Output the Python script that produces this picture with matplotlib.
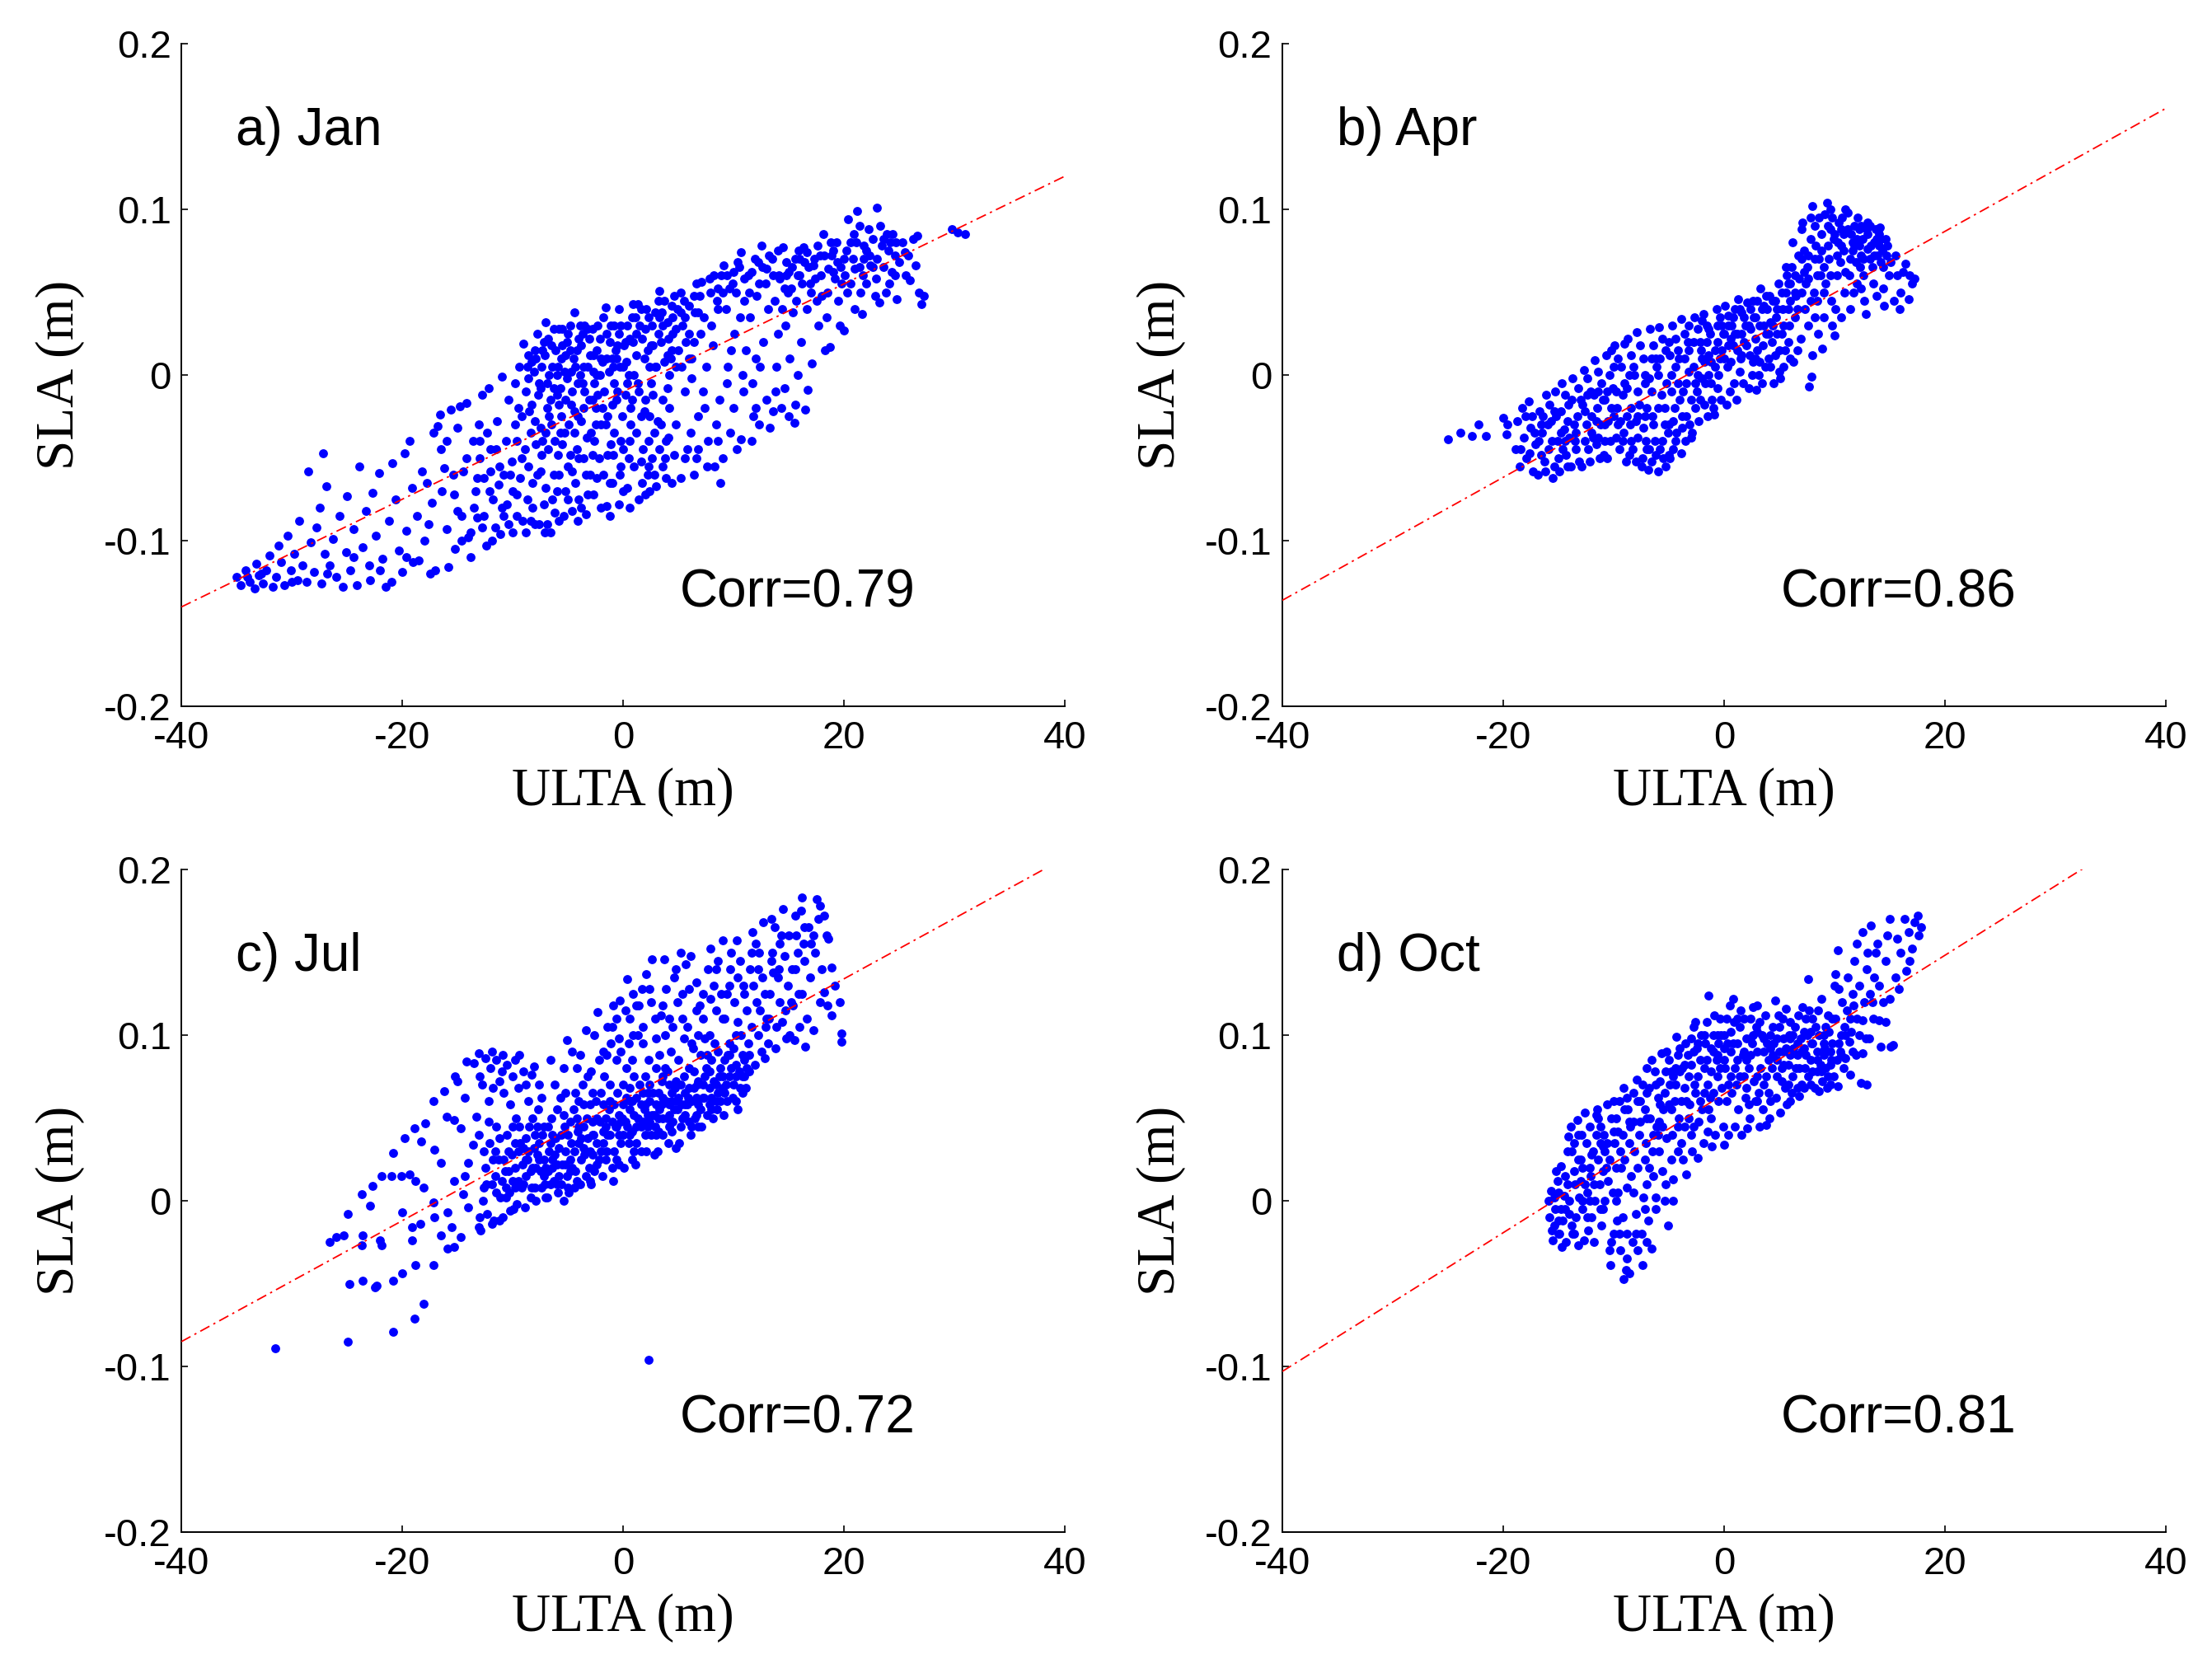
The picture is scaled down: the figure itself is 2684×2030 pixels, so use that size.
import numpy as np
import matplotlib
matplotlib.use("Agg")
import matplotlib.pyplot as plt

# ---------------- data ----------------
panel_titles = ["a) Jan", "b) Apr", "c) Jul", "d) Oct"]
corr_labels = ["Corr=0.79", "Corr=0.86", "Corr=0.72", "Corr=0.81"]
xticks = [-40, -20, 0, 20, 40]
xtick_labels = ["-40", "-20", "0", "20", "40"]
yticks = [-0.2, -0.1, 0.0, 0.1, 0.2]
ytick_labels = ["-0.2", "-0.1", "0", "0.1", "0.2"]
x_label = "ULTA (m)"
y_label = "SLA (m)"

# regression lines: SLA value at ULTA = -40 and at ULTA = +40
fit_x = [-40, 40]
fit_jan = [-0.140, 0.120]
fit_apr = [-0.136, 0.161]
fit_jul = [-0.085, 0.207]
fit_oct = [-0.103, 0.232]

jan_pts = [
    (-35.0,-0.122),(-34.6,-0.127),(-34.2,-0.118),(-33.8,-0.125),(-33.4,-0.129),(-33.0,-0.121),(-33.2,-0.114),
    (-32.6,-0.126),(-32.3,-0.118),(-32.0,-0.109),(-31.7,-0.128),(-31.4,-0.122),(-31.0,-0.113),(-31.2,-0.103),
    (-30.7,-0.127),(-30.4,-0.097),(-30.1,-0.118),(-29.8,-0.108),(-29.5,-0.124),(-29.3,-0.088),(-29.0,-0.115),
    (-28.7,-0.125),(-28.5,-0.058),(-28.3,-0.101),(-28.0,-0.119),(-27.8,-0.092),(-27.5,-0.080),(-27.2,-0.047),(-27.0,-0.108),(-27.3,-0.126),
    (-26.9,-0.067),(-26.6,-0.115),(-26.3,-0.099),(-26.0,-0.122),(-25.7,-0.085),(-25.4,-0.128),(-25.1,-0.107),(-25.0,-0.073),
    (-24.7,-0.118),(-24.4,-0.093),(-24.1,-0.127),(-23.9,-0.055),(-23.6,-0.104),(-23.3,-0.082),(-23.0,-0.115),(-22.9,-0.124),
    (-22.7,-0.071),(-22.4,-0.097),(-22.1,-0.059),(-21.8,-0.111),(-21.5,-0.128),(-21.2,-0.088),(-21.0,-0.125),(-20.9,-0.053),
    (-20.6,-0.075),(-20.3,-0.106),(-20.0,-0.119),(-19.8,-0.047),(-19.6,-0.094),(-19.3,-0.040),(-19.1,-0.068),(-19.0,-0.113),
    (-18.7,-0.085),(-18.5,-0.112),(-18.2,-0.058),(-18.0,-0.100),(-17.8,-0.065),(-17.5,-0.120),(-17.3,-0.077),(-17.0,-0.118),(-17.2,-0.035),
    (-16.8,-0.031),(-16.6,-0.024),(-16.5,-0.045),(-16.2,-0.056),(-16.0,-0.093),(-15.8,-0.116),(-15.6,-0.021),(-15.4,-0.060),(-15.2,-0.105),(-15.0,-0.082),(-15.3,-0.072),
    (-14.8,-0.019),(-14.5,-0.058),(-14.2,-0.017),(-14.0,-0.098),(-13.8,-0.110),(-13.6,-0.040),(-13.4,-0.070),(-13.2,-0.086),(-13.0,-0.050),(-13.1,-0.030),(-13.5,-0.080),
    (-12.8,-0.012),(-12.6,-0.062),(-12.4,-0.103),(-12.2,-0.008),(-12.0,-0.045),(-11.8,-0.075),(-11.6,-0.092),(-11.4,-0.028),(-11.2,-0.055),(-11.0,-0.001),(-11.1,-0.096),(-11.3,-0.066),(-12.3,-0.035),
    (-10.8,-0.085),(-10.6,-0.040),(-10.4,-0.015),(-10.2,-0.060),(-10.0,-0.095),(-9.8,-0.030),(-9.6,-0.072),(-9.4,0.005),(-9.2,-0.050),(-9.0,0.019),(-9.1,-0.088),(-9.5,-0.020),(-10.5,-0.078),(-9.3,-0.062),
    (-8.8,-0.010),(-8.6,0.012),(-8.4,-0.035),(-8.2,-0.065),(-8.0,-0.090),(-7.8,0.025),(-7.6,-0.005),(-7.4,-0.048),(-7.2,-0.078),(-7.0,0.032),(-7.1,-0.095),(-8.5,-0.022),(-8.1,0.002),(-7.5,-0.058),(-7.3,0.015),(-7.9,-0.042),(-8.7,-0.075),
    (-6.8,0.022),(-6.6,-0.015),(-6.4,0.005),(-6.2,-0.040),(-6.0,-0.070),(-5.8,0.028),(-5.6,-0.025),(-5.4,-0.085),(-5.2,0.012),(-5.0,-0.055),(-6.9,-0.090),(-6.5,-0.030),(-6.1,0.015),(-5.7,-0.008),(-5.3,-0.035),(-5.1,-0.002),(-6.3,-0.060),(-5.9,-0.048),
    (-4.8,0.030),(-4.6,-0.010),(-4.4,0.038),(-4.2,-0.045),(-4.0,-0.075),(-3.8,0.018),(-3.6,-0.020),(-3.4,-0.084),(-3.2,0.005),(-3.0,-0.060),(-4.9,-0.030),(-4.5,0.010),(-4.1,-0.005),(-3.7,0.025),(-3.3,-0.038),(-3.1,-0.015),(-4.3,-0.065),(-3.9,0.000),
    (-2.8,0.028),(-2.6,-0.005),(-2.4,0.015),(-2.2,-0.050),(-2.0,-0.080),(-1.8,0.035),(-1.6,0.041),(-1.4,-0.025),(-1.2,-0.065),(-1.0,0.010),(-2.9,-0.035),(-2.5,-0.020),(-2.1,0.022),(-1.7,-0.010),(-1.3,0.002),(-1.1,-0.042),(-2.7,-0.072),(-1.5,-0.079),
    (-0.8,0.030),(-0.6,-0.015),(-0.4,0.040),(-0.2,-0.040),(0.0,-0.070),(0.2,0.020),(0.4,-0.005),(0.6,-0.080),(0.8,0.035),(1.0,-0.055),(-0.9,0.005),(-0.5,0.018),(-0.1,-0.025),(0.3,0.008),(0.7,-0.030),(0.9,0.043),(-0.3,-0.060),
    (1.2,0.025),(1.4,-0.010),(1.6,0.040),(1.8,-0.045),(2.0,-0.072),(2.2,0.015),(2.4,-0.025),(2.6,0.030),(2.8,-0.060),(3.0,0.005),(1.3,0.043),(1.9,0.010),(2.5,-0.005),(2.9,0.038),(1.7,-0.065),(2.3,-0.040),
    (3.2,0.045),(3.4,0.020),(3.6,-0.015),(3.8,-0.050),(4.0,0.032),(4.2,0.000),(4.4,-0.065),(4.6,0.048),(4.8,-0.030),(5.0,0.015),(3.3,0.051),(3.7,0.008),(4.1,-0.038),(4.5,0.025),(4.9,0.040),(3.9,-0.062),
    (5.2,0.050),(5.4,0.030),(5.6,-0.010),(5.8,-0.045),(6.0,0.042),(6.2,0.010),(6.4,-0.060),(6.6,0.055),(6.8,-0.025),(7.0,0.025),(5.3,0.005),(5.7,0.020),(6.1,-0.035),(6.5,0.038),(6.9,0.048),(7.1,0.056),
    (7.3,0.035),(7.5,0.005),(7.7,-0.040),(7.9,0.050),(8.1,0.018),(8.3,-0.055),(8.5,0.045),(8.7,-0.015),(8.9,0.060),(9.1,0.066),(7.4,-0.020),(8.0,0.030),(8.6,0.040),(9.0,-0.050),(7.8,0.058),
    (9.3,0.040),(9.5,0.005),(9.7,-0.035),(9.9,0.055),(10.1,0.025),(10.3,-0.045),(10.5,0.065),(10.7,0.074),(10.9,-0.010),(11.0,0.045),(9.4,0.060),(10.0,-0.020),(10.6,0.035),(10.2,0.050),(11.1,0.015),(10.7,-0.039),
    (11.3,0.060),(11.5,0.035),(11.7,-0.005),(11.9,0.070),(12.1,0.048),(12.3,-0.030),(12.5,0.078),(12.7,0.020),(12.9,0.055),(13.0,-0.015),(11.4,0.050),(12.0,0.010),(12.6,0.065),(13.1,0.040),(11.8,-0.025),(13.3,-0.032),
    (13.5,0.070),(13.7,0.045),(13.9,0.005),(14.1,0.060),(14.3,-0.020),(14.5,0.077),(14.7,0.030),(14.9,0.050),(15.0,-0.025),(13.6,0.060),(14.0,0.025),(14.4,0.040),(14.8,0.068),(15.1,0.010),(13.8,-0.010),
    (15.3,0.065),(15.5,-0.029),(15.7,0.045),(15.9,0.075),(16.1,0.020),(16.3,0.077),(16.5,-0.021),(16.7,-0.009),(16.9,0.055),(17.1,0.007),(15.4,0.038),(16.0,0.060),(16.6,0.040),(15.8,0.000),(16.4,0.068),
    (17.3,0.070),(17.5,0.045),(17.7,0.030),(17.9,0.060),(18.1,0.085),(18.3,0.015),(18.5,0.050),(18.7,0.017),(18.9,0.072),(17.6,0.078),(18.4,0.035),(19.0,0.062),
    (19.3,0.080),(19.5,0.045),(19.7,0.065),(20.0,0.027),(20.2,0.075),(20.4,0.094),(20.6,0.055),(20.8,0.070),(21.0,0.040),(19.6,0.030),(20.3,0.050),(21.1,0.080),
    (21.2,0.099),(21.4,0.065),(21.6,0.037),(21.8,0.078),(22.0,0.055),(22.3,0.072),(22.6,0.082),(22.8,0.048),(23.0,0.101),(23.2,0.044),(22.2,0.088),(21.5,0.050),
    (23.4,0.078),(23.6,0.065),(23.9,0.085),(24.1,0.055),(24.4,0.085),(24.6,0.072),(24.8,0.046),(25.0,0.068),(23.8,0.050),(24.3,0.062),
    (25.3,0.080),(25.6,0.060),(26.0,0.057),(26.3,0.082),(26.6,0.084),(26.8,0.050),(27.0,0.043),(27.2,0.048),(25.8,0.072),(26.5,0.066),
    (29.8,0.088),(30.3,0.086),(31.0,0.085),
    (-8.3,0.008),(-7.7,-0.012),(-7.2,0.020),(-6.7,0.000),(-6.3,0.028),(-5.8,-0.018),(-5.5,0.018),(-5.0,0.025),(-4.7,0.002),(-4.2,0.015),
    (-3.8,-0.028),(-3.5,0.030),(-3.0,0.012),(-2.7,0.002),(-2.3,-0.012),(-1.9,0.008),(-1.5,0.025),(-1.0,-0.018),(-0.6,0.010),(-0.2,0.030),
    (0.2,-0.012),(0.6,0.022),(1.0,0.000),(1.5,0.030),(1.9,-0.022),(2.3,0.035),(2.7,0.018),(3.1,-0.028),(3.5,0.038),(4.0,0.012),
    (4.4,0.042),(4.8,0.005),(5.5,0.045),(6.0,0.025),(6.4,0.048),(6.8,0.038),(-8.0,-0.028),(-7.5,-0.032),(-6.8,-0.045),(-6.0,-0.012),
    (-5.5,-0.042),(-4.8,-0.048),(-4.4,-0.022),(-3.6,-0.050),(-2.8,-0.048),(-2.0,-0.030),(-1.4,-0.048),(-0.8,-0.035),(0.0,-0.045),(0.5,-0.050),
    (1.2,-0.035),(2.0,-0.015),(2.6,-0.050),(3.3,-0.045),(4.2,-0.020),
    (-8.9,-0.045),(-9.6,-0.040),(-10.1,-0.052),(-10.8,-0.060),(-11.5,-0.045),(-12.1,-0.070),(-8.2,-0.080),(-7.0,-0.068),(-6.2,-0.083),(-5.0,-0.075),
    (-4.1,-0.088),(-3.2,-0.072),(-2.4,-0.062),(-1.2,-0.085),(-0.4,-0.078),(0.4,-0.068),(1.4,-0.075),(2.2,-0.060),(3.0,-0.067),(3.6,-0.055),
    (8.2,0.060),(9.6,0.052),(10.4,0.068),(11.6,0.062),(12.3,0.055),(13.2,0.072),(14.2,0.058),(15.2,0.052),(15.6,0.070),(16.8,0.065),
    (17.4,0.058),(18.0,0.048),(18.8,0.080),(19.4,0.068),(20.1,0.060),(20.9,0.085),(21.7,0.060),(22.4,0.066),(23.3,0.090),(24.0,0.075),
    (24.7,0.080),(25.5,0.074),(19.8,0.055),(22.9,0.058),(17.0,0.050),(14.6,0.052),
    (6.2,-0.002),(7.2,-0.010),(8.4,-0.030),(9.4,-0.005),(10.8,0.000),(11.6,-0.040),(12.4,0.005),(13.6,-0.022),(14.6,-0.008),(15.6,-0.018),
    (12.0,-0.020),(9.8,0.015),(8.8,-0.065),(6.6,-0.050),(5.2,-0.062),
    (-8.6,-0.002),(-8.0,0.015),(-7.4,0.005),(-6.9,-0.020),(-6.5,0.018),(-6.0,0.000),(-5.6,0.010),(-5.2,-0.015),(-4.8,0.015),(-4.4,-0.035),
    (-4.0,0.022),(-3.6,0.005),(-3.2,0.028),(-2.8,-0.015),(-2.4,0.000),(-2.0,0.010),(-1.6,-0.030),(-1.2,0.020),(-0.8,-0.005),(-0.4,0.025),
    (0.0,0.005),(0.4,0.030),(0.8,-0.015),(1.2,0.012),(1.6,-0.025),(2.0,0.028),(2.4,0.005),(2.8,-0.035),(3.2,0.025),(3.6,0.030),
    (4.0,-0.008),(4.4,0.015),(4.8,0.028),(5.2,0.038),(5.6,0.035),(6.0,0.010),(6.4,0.020),
    (-9.8,-0.005),(-9.2,-0.025),(-8.6,-0.055),(-7.8,-0.060),(-7.0,-0.035),(-6.4,-0.075),(-5.8,-0.060),(-5.2,-0.070),(-4.6,-0.058),(-4.0,-0.050),
    (-3.4,-0.060),(-2.6,-0.040),(-1.8,-0.060),(-1.0,-0.065),(-0.2,-0.055),(0.6,-0.040),(1.6,-0.052),(2.4,-0.070),(3.4,-0.030),(4.6,-0.048),
    (5.6,-0.050),(6.8,-0.045),(7.6,-0.055),(8.6,-0.040),
    (-12.6,-0.085),(-11.9,-0.100),(-11.0,-0.080),(-10.4,-0.090),(-9.6,-0.085),(-8.8,-0.095),(-8.4,-0.088),(-7.6,-0.090),(-6.6,-0.095),(-5.8,-0.088),
    (-4.6,-0.082),(-3.8,-0.080),(-14.6,-0.100),(-13.8,-0.095),(-12.8,-0.092),(-12.0,-0.058),(-10.0,-0.070),(-13.2,-0.062),
    (13.0,0.064),(14.0,0.075),(15.0,0.062),(16.2,0.055),(17.2,0.066),(18.2,0.072),(19.0,0.075),(20.0,0.070),(21.0,0.064),(22.0,0.075),
    (23.0,0.070),(24.2,0.080),(12.2,0.068),(11.0,0.058),(10.0,0.062),(9.0,0.050),(8.6,0.052),(16.0,0.070),(21.4,0.090),(23.6,0.082),
    (-16.0,-0.040),(-15.0,-0.032),(-14.2,-0.050),(-13.0,-0.040),(-16.4,-0.070),(-14.6,-0.085),(-17.6,-0.090),(-19.6,-0.110),(-22.0,-0.118),(-24.4,-0.110),
    (-26.8,-0.120),(-30.0,-0.125),(-32.8,-0.120),(-34.0,-0.122),
    (-8.7,0.005),(-8.3,-0.018),(-7.9,0.010),(-7.5,-0.008),(-7.1,0.012),(-6.7,-0.025),(-6.3,-0.008),(-5.9,0.005),(-5.5,0.028),(-5.1,0.020),
    (-4.7,-0.018),(-4.3,0.005),(-3.9,0.030),(-3.5,-0.010),(-3.1,0.022),(-2.7,0.012),(-2.3,0.030),(-1.9,-0.020),(-1.5,0.010),(-1.1,0.030),
    (-0.7,0.015),(-0.3,0.005),(0.1,0.018),(0.5,0.000),(0.9,0.020),(1.3,-0.005),(1.7,0.022),(2.1,0.040),(2.5,0.018),(2.9,0.005),
    (3.3,0.035),(3.7,0.045),(4.1,0.022),(4.5,0.035),(-6.9,-0.005),(-5.3,0.002),(-3.7,-0.005),(-2.1,0.000),(-0.5,-0.010),(1.1,0.035),
    (2.7,-0.012),(4.3,0.010),(-7.3,-0.040),(-5.7,-0.035),(-4.1,-0.025),(-2.5,-0.030),(-0.9,-0.048),(0.7,-0.020),(2.3,-0.055),(3.9,-0.040),
    (15.8,0.060),(17.8,0.072),(19.2,0.058),(20.6,0.080),(22.6,0.065),(24.6,0.060),(21.8,0.070),(18.6,0.064),(16.6,0.074),(14.8,0.060),
]

apr_pts = [
    (-25.0,-0.039),(-23.9,-0.035),(-22.8,-0.037),(-22.2,-0.030),(-21.6,-0.037),(-20.0,-0.026),(-19.7,-0.036),(-19.6,-0.030),
    (-18.9,-0.045),(-18.7,-0.028),(-18.5,-0.055),(-18.3,-0.020),(-18.1,-0.038),(-17.9,-0.050),(-17.7,-0.016),(-17.5,-0.032),(-17.3,-0.058),(-17.1,-0.042),(-18.0,-0.025),(-17.6,-0.047),
    (-16.9,-0.060),(-16.7,-0.022),(-16.5,-0.035),(-16.3,-0.052),(-16.1,-0.012),(-15.9,-0.045),(-15.7,-0.028),(-15.5,-0.062),(-15.3,-0.010),(-15.1,-0.040),(-16.6,-0.048),(-16.0,-0.030),(-15.4,-0.055),(-15.8,-0.018),(-16.8,-0.040),(-15.2,-0.025),
    (-14.9,-0.058),(-14.7,-0.005),(-14.5,-0.033),(-14.3,-0.048),(-14.1,-0.018),(-13.9,-0.055),(-13.7,-0.002),(-13.5,-0.040),(-13.3,-0.025),(-13.1,-0.052),(-14.8,-0.022),(-14.4,-0.012),(-14.0,-0.038),(-13.6,-0.030),(-13.2,-0.008),(-14.6,-0.045),(-13.8,-0.015),(-14.2,-0.028),
    (-12.9,-0.055),(-12.7,0.003),(-12.5,-0.030),(-12.3,-0.045),(-12.1,-0.010),(-11.9,-0.038),(-11.7,0.009),(-11.5,-0.020),(-11.3,-0.050),(-11.1,-0.005),(-12.8,-0.018),(-12.4,-0.002),(-12.0,-0.025),(-11.6,-0.042),(-11.2,-0.030),(-12.6,-0.040),(-11.8,-0.012),(-11.4,0.002),(-12.2,-0.052),(-11.0,-0.015),
    (-10.9,-0.048),(-10.7,0.012),(-10.5,-0.028),(-10.3,-0.040),(-10.1,-0.008),(-9.9,0.018),(-9.7,-0.020),(-9.5,-0.045),(-9.3,0.005),(-9.1,-0.035),(-10.8,-0.015),(-10.4,0.000),(-10.0,-0.025),(-9.6,0.010),(-9.2,-0.012),(-10.6,-0.050),(-9.8,-0.038),(-9.4,-0.028),(-10.2,0.015),(-9.0,0.019),
    (-8.9,-0.052),(-8.7,0.022),(-8.5,-0.030),(-8.3,-0.045),(-8.1,0.000),(-7.9,0.026),(-7.7,-0.018),(-7.5,-0.055),(-7.3,0.010),(-7.1,-0.040),(-8.8,-0.008),(-8.4,0.012),(-8.0,-0.028),(-7.6,0.018),(-7.2,-0.005),(-8.6,-0.048),(-7.8,-0.038),(-7.4,-0.050),(-8.2,0.005),(-7.0,-0.020),(-8.0,-0.052),(-7.3,-0.032),
    (-6.9,-0.057),(-6.7,0.028),(-6.5,-0.025),(-6.3,-0.040),(-6.1,0.005),(-5.9,0.029),(-5.7,-0.012),(-5.5,-0.050),(-5.3,0.015),(-5.1,-0.035),(-6.8,-0.002),(-6.4,0.018),(-6.0,-0.020),(-5.6,0.022),(-5.2,-0.005),(-6.6,-0.052),(-5.8,-0.045),(-5.4,-0.030),(-6.2,0.010),(-5.0,-0.048),(-6.0,-0.058),(-5.3,-0.055),
    (-4.9,-0.050),(-4.7,0.030),(-4.5,-0.020),(-4.3,-0.035),(-4.1,0.010),(-3.9,0.034),(-3.7,-0.010),(-3.5,-0.040),(-3.3,0.020),(-3.1,-0.030),(-4.8,0.000),(-4.4,0.022),(-4.0,-0.015),(-3.6,0.025),(-3.2,0.002),(-4.6,-0.045),(-3.8,-0.025),(-3.4,-0.005),(-4.2,0.015),(-3.0,-0.038),(-4.9,0.012),(-3.9,-0.047),
    (-2.9,-0.035),(-2.7,0.035),(-2.5,-0.010),(-2.3,-0.028),(-2.1,0.015),(-1.9,0.037),(-1.7,-0.005),(-1.5,-0.025),(-1.3,0.025),(-1.1,-0.015),(-2.8,0.005),(-2.4,0.028),(-2.0,-0.002),(-1.6,0.030),(-1.2,0.008),(-2.6,-0.020),(-1.8,-0.018),(-1.4,0.012),(-2.2,0.020),(-1.0,-0.020),(-2.0,0.033),
    (-0.9,-0.024),(-0.7,0.040),(-0.5,0.000),(-0.3,-0.015),(-0.1,0.025),(0.1,0.042),(0.3,0.005),(0.5,-0.010),(0.7,0.030),(0.9,-0.005),(-0.8,0.015),(-0.4,0.035),(0.0,0.010),(0.4,0.036),(0.8,0.018),(-0.6,-0.008),(0.2,-0.018),(0.6,0.022),(-0.2,0.030),(1.0,0.040),
    (1.1,-0.015),(1.3,0.046),(1.5,0.010),(1.7,-0.005),(1.9,0.030),(2.1,0.044),(2.3,0.012),(2.5,0.000),(2.7,0.035),(2.9,-0.009),(1.2,0.025),(1.6,0.038),(2.0,0.018),(2.4,0.040),(2.8,0.022),(1.4,0.002),(1.8,0.020),(2.2,-0.008),(2.6,0.008),(3.0,0.045),
    (3.1,0.000),(3.3,0.052),(3.5,0.018),(3.7,0.005),(3.9,0.040),(4.1,0.048),(4.3,0.020),(4.5,-0.005),(4.7,0.035),(4.9,0.055),(3.2,0.030),(3.6,0.042),(4.0,0.010),(4.4,0.045),(4.8,0.025),(3.4,-0.005),(3.8,0.025),(4.2,0.032),(4.6,0.012),(5.0,0.002),
    (5.1,-0.002),(5.3,0.040),(5.5,0.015),(5.7,0.060),(5.9,0.030),(6.1,0.065),(6.3,0.008),(6.5,0.048),(6.7,0.072),(6.9,0.022),(5.2,0.025),(5.6,0.050),(6.0,0.045),(6.2,0.080),(6.4,0.035),(6.8,0.058),(5.4,0.005),(5.8,0.020),(6.6,0.015),(7.0,0.088),(6.0,0.010),
    (7.1,0.092),(7.3,0.040),(7.5,0.065),(7.7,-0.007),(7.9,-0.001),(8.0,0.102),(8.1,0.050),(8.3,0.078),(8.5,0.025),(8.7,0.060),(8.9,0.016),(7.2,0.075),(7.6,0.030),(8.2,0.090),(8.4,0.045),(8.8,0.085),(7.4,0.055),(7.8,0.082),(8.6,0.070),(9.0,0.035),(8.0,0.012),(7.0,0.050),
    (9.1,0.097),(9.3,0.104),(9.5,0.070),(9.7,0.045),(9.9,0.082),(10.0,0.024),(10.2,0.060),(10.4,0.092),(10.6,0.035),(10.8,0.075),(11.0,0.100),(9.2,0.055),(9.6,0.088),(10.1,0.040),(10.5,0.068),(10.9,0.050),(9.4,0.078),(9.8,0.030),(10.3,0.080),(10.7,0.095),(11.0,0.062),
    (11.2,0.098),(11.4,0.040),(11.6,0.075),(11.8,0.090),(12.0,0.055),(12.1,0.095),(12.3,0.065),(12.5,0.082),(12.7,0.045),(12.9,0.088),(11.3,0.060),(11.7,0.050),(12.2,0.078),(12.6,0.070),(11.5,0.085),(12.8,0.037),(12.4,0.052),(11.9,0.068),(13.0,0.076),
    (13.2,0.090),(13.4,0.065),(13.6,0.080),(13.8,0.048),(14.0,0.085),(14.1,0.089),(14.3,0.075),(14.5,0.042),(14.7,0.072),(14.9,0.060),(13.3,0.078),(13.7,0.088),(14.2,0.068),(14.6,0.082),(13.5,0.055),(14.4,0.052),(13.9,0.072),(14.8,0.078),
    (15.1,0.068),(15.4,0.045),(15.7,0.060),(16.0,0.050),(16.4,0.067),(16.7,0.046),(17.0,0.055),(17.2,0.058),(15.5,0.072),(16.2,0.062),(15.9,0.040),(16.8,0.060),
    (-17.2,-0.035),(-16.4,-0.025),(-15.6,-0.040),(-14.8,-0.035),(-14.2,-0.055),(-13.4,-0.045),(-12.6,-0.022),(-12.0,-0.035),(-11.4,-0.010),(-10.8,-0.030),
    (-10.2,-0.020),(-9.6,-0.030),(-9.0,-0.005),(-8.4,-0.020),(-7.8,-0.010),(-7.2,-0.025),(-6.6,-0.010),(-6.0,0.000),(-5.4,-0.020),(-4.8,-0.010),
    (-4.2,-0.005),(-3.6,0.010),(-3.0,-0.015),(-2.4,0.000),(-1.8,0.008),(-1.2,-0.005),(-0.6,0.020),(0.0,0.025),(0.6,0.008),(1.2,0.015),
    (1.8,0.035),(2.4,0.028),(3.0,0.015),(3.6,0.030),(4.2,0.005),(4.8,0.040),(5.4,0.030),(6.0,0.055),(6.6,0.040),(7.2,0.062),
    (7.8,0.045),(8.4,0.060),(9.0,0.065),(9.6,0.060),(10.2,0.072),(10.8,0.085),(11.4,0.070),(12.0,0.082),(12.6,0.060),(13.2,0.070),
    (13.8,0.082),(14.4,0.065),(-8.4,-0.040),(-7.0,-0.045),(-6.2,-0.048),(-5.6,-0.040),(-4.4,-0.040),(-3.4,-0.025),(-2.2,-0.015),(-1.4,0.000),
    (-0.4,0.010),(0.4,0.030),(1.6,0.025),(2.6,0.045),(3.8,0.048),(5.0,0.015),(-6.6,0.010),(-5.0,0.020),(-3.2,0.030),(-1.6,0.020),
    (0.8,0.035),(2.8,0.010),(4.4,0.030),(-10.0,0.005),(-11.6,-0.028),(-13.0,-0.015),(-15.0,-0.050),(-16.2,-0.058),(-17.4,-0.025),(-18.4,-0.045),
    (8.6,0.095),(9.6,0.100),(10.6,0.088),(11.6,0.080),(12.4,0.090),(13.0,0.085),(14.0,0.078),(7.6,0.072),(8.2,0.035),(9.0,0.050),
    (6.4,0.060),(5.8,0.040),
    (-16.6,-0.030),(-15.4,-0.022),(-14.4,-0.040),(-13.4,-0.035),(-12.4,-0.012),(-11.4,-0.038),(-10.6,-0.010),(-9.8,-0.010),(-9.2,-0.040),(-8.6,0.000),
    (-7.8,-0.025),(-7.2,0.000),(-6.4,-0.030),(-5.8,0.010),(-5.0,-0.030),(-4.4,0.005),(-3.8,-0.032),(-3.2,0.015),(-2.6,-0.005),(-2.0,0.010),
    (-1.4,0.028),(-0.8,0.005),(-0.2,0.015),(0.4,0.018),(1.0,0.025),(1.6,0.012),(2.2,0.030),(2.8,0.035),(3.4,0.040),(4.0,0.025),
    (4.6,0.045),(5.2,0.050),(5.8,0.055),(6.4,0.050),(7.0,0.070),(7.6,0.058),(8.2,0.070),(8.8,0.075),(9.4,0.090),(10.0,0.085),
    (10.6,0.078),(11.2,0.088),(11.8,0.078),(12.4,0.072),(13.0,0.092),(13.6,0.072),(14.2,0.082),(-10.8,-0.040),(-8.8,-0.025),(-6.8,-0.045),
    (-4.6,-0.028),(-2.8,0.020),(-0.6,0.030),(1.4,0.040),(3.2,0.008),(5.6,0.065),(7.8,0.095),(9.8,0.095),(12.2,0.088),
]

jul_pts = [
    (-31.5,-0.089),(-24.9,-0.085),(-20.8,-0.079),(-18.9,-0.071),(-18.1,-0.062),(2.3,-0.096),
    (-24.8,-0.050),(-23.6,-0.048),(-22.5,-0.052),(-22.3,-0.051),(-20.8,-0.048),(-20.0,-0.044),(-18.8,-0.039),(-17.2,-0.039),
    (-26.6,-0.025),(-26.0,-0.022),(-25.3,-0.021),(-23.7,-0.027),(-23.6,-0.021),(-21.9,-0.027),(-22.0,-0.024),(-19.1,-0.024),
    (-24.9,-0.008),(-23.7,0.004),(-22.9,-0.003),(-22.7,0.009),(-21.9,0.015),(-21.0,0.015),(-20.1,0.015),(-19.3,0.016),(-18.8,0.012),(-18.1,0.008),
    (-19.8,0.038),(-18.9,0.044),(-17.9,0.047),(-20.8,0.029),(-17.2,0.060),(-16.2,0.066),(-15.2,0.075),(-14.2,0.084),(-13.1,0.089),(-11.9,0.090),
    (-10.9,0.088),(-9.4,0.088),(-8.1,0.081),(-8.3,0.076),
    (-20.0,-0.007),(-19.1,-0.016),(-18.4,-0.014),(-17.1,-0.010),(-16.5,-0.021),(-15.9,-0.029),(-15.3,-0.028),(-14.7,-0.022),(-15.5,-0.016),(-15.9,-0.007),
    (-17.2,-0.001),(-15.3,0.012),(-16.5,0.023),(-17.1,0.031),(-18.3,0.036),(-16.0,0.051),(-15.3,0.049),(-14.7,0.044),(-14.3,0.062),(-15.0,0.072),
    (-13.3,0.051),(-13.1,0.040),(-13.6,0.034),(-14.0,0.023),(-14.3,0.015),(-14.5,0.004),(-14.0,-0.004),(-13.1,-0.016),(-13.0,-0.010),(-11.9,-0.014),(-11.2,-0.012),
    (-13.5,0.083),(-12.5,0.086),(-12.0,0.080),(-11.5,0.085),(-11.0,0.078),(-10.5,0.082),(-10.0,0.075),(-9.8,0.085),(-9.0,0.078),(-12.8,0.070),
    (-11.8,0.068),(-10.8,0.065),(-12.2,0.060),(-9.5,0.068),(-8.8,0.070),(-10.2,0.058),(-13.0,0.075),(-11.2,0.072),
    (-12.9,-0.018),(-12.7,0.000),(-12.5,0.020),(-12.3,-0.008),(-12.1,0.035),(-11.9,0.010),(-11.7,-0.012),(-11.5,0.045),(-11.3,0.025),(-11.1,0.002),(-12.6,0.030),(-11.6,0.015),(-12.2,0.048),(-11.2,0.038),
    (-10.9,-0.010),(-10.7,0.018),(-10.5,0.040),(-10.3,0.005),(-10.1,0.028),(-9.9,-0.005),(-9.7,0.050),(-9.5,0.012),(-9.3,0.035),(-9.1,0.022),(-10.6,0.002),(-10.0,0.045),(-9.6,-0.002),(-9.2,0.008),(-10.4,0.030),(-9.8,0.020),
    (-8.9,-0.004),(-8.7,0.025),(-8.5,0.045),(-8.3,0.008),(-8.1,0.032),(-7.9,0.000),(-7.7,0.055),(-7.5,0.018),(-7.3,0.040),(-7.1,0.010),(-8.8,0.015),(-8.2,0.050),(-7.8,0.028),(-7.4,0.062),(-7.0,0.002),(-8.6,0.060),(-7.6,0.070),(-8.0,0.040),(-7.2,0.025),
    (-6.9,0.002),(-6.7,0.030),(-6.5,0.050),(-6.3,0.012),(-6.1,0.038),(-5.9,0.005),(-5.7,0.062),(-5.5,0.022),(-5.3,0.045),(-5.1,0.015),(-6.8,0.018),(-6.2,0.070),(-5.8,0.032),(-5.4,0.080),(-5.0,0.008),(-6.6,0.085),(-6.0,0.055),(-5.6,0.040),(-6.4,0.025),(-5.2,0.065),(-5.1,0.097),
    (-4.9,0.005),(-4.7,0.035),(-4.5,0.055),(-4.3,0.018),(-4.1,0.042),(-3.9,0.010),(-3.7,0.070),(-3.5,0.028),(-3.3,0.050),(-3.1,0.020),(-4.8,0.025),(-4.2,0.080),(-3.8,0.038),(-3.4,0.103),(-3.0,0.012),(-4.6,0.090),(-4.0,0.060),(-3.6,0.045),(-4.4,0.030),(-3.2,0.075),(-3.9,0.088),(-4.3,0.065),
    (-2.9,0.010),(-2.7,0.040),(-2.5,0.060),(-2.3,0.114),(-2.1,0.048),(-1.9,0.015),(-1.7,0.075),(-1.5,0.030),(-1.3,0.055),(-1.1,0.095),(-2.8,0.028),(-2.2,0.085),(-1.8,0.042),(-1.4,0.105),(-1.0,0.020),(-2.6,0.100),(-2.0,0.065),(-1.6,0.050),(-2.4,0.035),(-1.2,0.070),(-2.9,0.078),(-1.5,0.088),(-0.9,0.118),
    (-0.9,0.012),(-0.7,0.045),(-0.5,0.065),(-0.3,0.121),(-0.1,0.050),(0.1,0.020),(0.3,0.080),(0.5,0.035),(0.7,0.060),(0.9,0.100),(-0.8,0.030),(-0.2,0.090),(0.2,0.048),(0.4,0.134),(0.8,0.025),(-0.6,0.110),(0.0,0.070),(0.6,0.055),(-0.4,0.040),(1.0,0.075),(0.2,0.115),(-0.6,0.085),(0.9,0.125),(0.5,0.095),
    (1.1,0.022),(1.3,0.050),(1.5,0.070),(1.7,0.128),(1.9,0.055),(2.1,0.030),(2.3,0.085),(2.5,0.040),(2.7,0.065),(2.9,0.110),(1.2,0.035),(1.8,0.095),(2.2,0.052),(2.6,0.146),(2.8,0.028),(1.4,0.118),(2.0,0.075),(2.4,0.060),(1.6,0.045),(3.0,0.080),(2.1,0.137),(1.3,0.100),(2.5,0.120),(2.9,0.045),
    (3.1,0.030),(3.3,0.055),(3.5,0.072),(3.7,0.146),(3.9,0.060),(4.1,0.035),(4.3,0.090),(4.5,0.048),(4.7,0.068),(4.9,0.120),(3.2,0.042),(3.8,0.100),(4.2,0.058),(4.6,0.135),(4.8,0.032),(3.4,0.112),(4.0,0.078),(4.4,0.065),(3.6,0.050),(5.0,0.085),(3.9,0.128),(4.5,0.105),(3.3,0.088),(4.9,0.055),
    (5.1,0.035),(5.3,0.058),(5.5,0.075),(5.7,0.143),(5.9,0.062),(6.1,0.040),(6.3,0.092),(6.5,0.050),(6.7,0.070),(6.9,0.118),(5.2,0.150),(5.8,0.105),(6.2,0.060),(6.6,0.132),(6.8,0.045),(5.4,0.125),(6.0,0.080),(6.4,0.068),(5.6,0.052),(7.0,0.088),(6.1,0.148),(5.5,0.098),(6.8,0.100),
    (7.1,0.045),(7.3,0.062),(7.5,0.080),(7.7,0.140),(7.9,0.152),(8.1,0.050),(8.3,0.095),(8.5,0.055),(8.7,0.075),(8.9,0.125),(7.2,0.110),(7.8,0.068),(8.2,0.130),(8.6,0.145),(8.8,0.060),(7.4,0.098),(8.0,0.085),(8.4,0.115),(7.6,0.052),(9.0,0.157),(7.9,0.122),(8.6,0.090),
    (9.1,0.052),(9.3,0.070),(9.5,0.088),(9.7,0.140),(9.9,0.062),(10.1,0.120),(10.3,0.157),(10.5,0.078),(10.7,0.100),(10.9,0.130),(9.2,0.110),(9.8,0.150),(10.2,0.060),(10.6,0.145),(10.8,0.065),(9.4,0.125),(10.0,0.092),(10.4,0.108),(9.6,0.075),(11.0,0.085),(10.4,0.135),
    (11.1,0.068),(11.3,0.095),(11.5,0.140),(11.7,0.162),(11.9,0.082),(12.1,0.120),(12.3,0.150),(12.5,0.090),(12.7,0.168),(12.9,0.105),(11.2,0.115),(11.8,0.130),(12.2,0.100),(12.6,0.135),(11.4,0.078),(12.0,0.155),(12.8,0.086),(11.6,0.105),(12.4,0.115),
    (13.1,0.095),(13.3,0.125),(13.5,0.150),(13.7,0.165),(13.9,0.105),(14.1,0.140),(14.3,0.160),(14.5,0.176),(14.7,0.115),(14.9,0.130),(13.2,0.110),(13.8,0.092),(14.2,0.120),(14.6,0.148),(13.4,0.170),(14.0,0.135),(14.8,0.098),(13.6,0.138),
    (15.1,0.100),(15.3,0.140),(15.5,0.097),(15.7,0.160),(15.9,0.125),(16.1,0.175),(16.2,0.183),(16.4,0.145),(16.6,0.110),(16.8,0.165),(15.2,0.120),(15.8,0.150),(16.0,0.105),(16.5,0.093),(16.9,0.135),(15.6,0.172),(16.3,0.155),
    (17.2,0.103),(17.5,0.182),(17.4,0.150),(17.7,0.170),(18.0,0.140),(18.2,0.172),(18.2,0.126),(18.4,0.160),(18.6,0.158),(18.9,0.141),(18.9,0.112),(17.8,0.120),(19.2,0.130),(19.6,0.120),(19.8,0.101),(19.8,0.096),(17.0,0.155),(18.5,0.118),
    (-11.5,0.005),(-10.8,0.025),(-10.2,-0.006),(-9.5,0.030),(-8.8,0.038),(-8.4,0.002),(-7.9,0.020),(-7.2,0.045),(-6.6,0.010),(-6.0,0.022),
    (-5.4,0.000),(-4.8,0.048),(-4.4,0.008),(-3.8,0.025),(-3.2,0.038),(-2.6,0.018),(-2.2,0.025),(-1.8,0.058),(-1.2,0.040),(-0.6,0.025),
    (-0.2,0.035),(0.3,0.062),(0.8,0.042),(1.2,0.062),(1.6,0.030),(2.0,0.040),(2.4,0.070),(2.8,0.052),(3.2,0.065),(3.6,0.040),
    (4.0,0.050),(4.4,0.042),(4.8,0.072),(5.2,0.045),(5.6,0.065),(6.0,0.048),(6.4,0.078),(6.8,0.058),(7.2,0.070),(7.6,0.088),
    (8.0,0.062),(8.4,0.070),(8.8,0.080),(9.2,0.065),(9.6,0.095),(10.0,0.070),(10.4,0.055),(10.8,0.088),(3.5,0.058),(4.2,0.045),
    (5.0,0.062),(2.2,0.045),(1.0,0.052),(0.0,0.058),(-1.0,0.048),
    (-12.4,0.010),(-11.8,0.025),(-11.0,0.012),(-10.4,0.018),(-9.8,0.035),(-9.0,0.010),(-8.6,0.030),(-8.0,0.008),(-7.6,0.035),(-7.0,0.020),
    (-6.4,0.040),(-5.8,0.015),(-5.2,0.030),(-4.6,0.020),(-4.0,0.035),(-3.4,0.015),(-2.8,0.048),(-2.0,0.030),(-1.4,0.040),(-0.8,0.058),
    (-0.4,0.022),(0.4,0.045),(1.0,0.030),(1.6,0.058),(2.2,0.065),(2.6,0.052),(3.0,0.040),(3.6,0.062),(4.2,0.070),(4.6,0.055),
    (5.2,0.070),(5.8,0.058),(6.2,0.045),(6.6,0.062),(7.0,0.055),(7.4,0.075),(7.8,0.058),(8.2,0.072),(8.6,0.065),(9.0,0.075),
    (9.4,0.060),(9.8,0.080),(10.2,0.075),(10.6,0.068),(11.0,0.075),(11.4,0.088),(1.8,0.048),(0.6,0.040),(-0.2,0.048),(-1.6,0.025),
    (-2.4,0.050),(-3.0,0.030),(-3.6,0.058),(-4.2,0.012),(-5.0,0.040),(-5.6,0.010),(-6.2,0.028),(-6.8,0.045),(-7.4,0.008),(-8.2,0.020),
    (-9.4,0.045),(-10.0,0.012),
    (-1.8,0.090),(-1.0,0.105),(-0.4,0.098),(0.6,0.110),(1.2,0.118),(1.8,0.105),(2.4,0.128),(3.0,0.098),(3.6,0.118),(4.2,0.110),
    (4.8,0.140),(5.4,0.110),(6.0,0.128),(6.6,0.115),(7.2,0.125),(7.8,0.100),(8.4,0.140),(9.0,0.110),(9.6,0.130),(10.2,0.100),
    (11.0,0.125),(11.6,0.150),(12.2,0.140),(12.8,0.125),(13.4,0.145),(14.2,0.155),(15.0,0.160),(15.6,0.140),(16.4,0.165),(17.2,0.160),
    (17.8,0.178),(13.0,0.110),(14.4,0.108),(15.4,0.118),(16.2,0.125),(-2.8,0.065),(0.8,0.085),(3.8,0.080),(6.2,0.095),
    (-9.8,0.008),(-9.0,0.032),(-8.4,0.018),(-7.8,0.045),(-7.2,0.015),(-6.6,0.035),(-6.0,0.010),(-5.4,0.052),(-4.8,0.018),(-4.2,0.050),
    (-3.6,0.032),(-3.0,0.058),(-2.4,0.022),(-1.8,0.035),(-1.2,0.060),(-0.6,0.045),(0.0,0.040),(0.6,0.068),(1.2,0.045),(1.8,0.065),
    (2.4,0.048),(3.0,0.058),(3.6,0.075),(4.2,0.052),(4.8,0.060),(5.4,0.050),(6.0,0.068),(6.6,0.052),(7.2,0.062),(7.8,0.078),
    (8.4,0.060),(9.0,0.068),(9.6,0.088),(10.2,0.082),(10.8,0.075),(11.2,0.080),(3.2,0.050),(4.4,0.060),(5.6,0.058),(6.8,0.072),
    (8.0,0.055),(9.2,0.085),(2.0,0.058),(0.8,0.060),(-0.4,0.052),(-1.6,0.045),(-2.8,0.040),(-4.0,0.045),(-5.2,0.022),(-6.4,0.020),
    (-7.6,0.025),(-8.8,0.025),(-10.6,0.008),(-11.6,0.030),(-12.6,0.008),
]

oct_pts = [
    (-15.9,0.000),(-15.8,-0.010),(-15.7,0.006),(-15.6,-0.018),(-15.5,-0.024),(-15.3,-0.005),(-15.1,0.012),(-14.9,-0.020),(-14.8,0.021),(-14.6,-0.012),
    (-14.5,0.003),(-14.3,-0.025),(-14.2,0.030),(-14.1,0.039),(-14.0,-0.008),(-15.4,-0.015),(-15.0,0.005),(-14.7,-0.028),(-14.4,0.015),(-15.2,0.018),
    (-13.9,0.045),(-13.7,-0.020),(-13.5,0.010),(-13.3,0.049),(-13.2,-0.027),(-13.0,0.025),(-12.8,-0.005),(-12.6,0.053),(-12.5,0.035),(-12.3,-0.018),
    (-12.1,0.015),(-13.8,0.030),(-13.4,-0.010),(-13.1,0.002),(-12.9,0.040),(-12.4,0.005),(-12.2,0.045),(-13.6,0.018),(-12.7,-0.024),(-12.0,-0.010),
    (-11.9,0.030),(-11.8,-0.025),(-11.6,0.052),(-11.5,0.055),(-11.3,0.010),(-11.1,-0.015),(-10.9,0.040),(-10.7,0.020),(-10.6,0.058),(-10.4,-0.030),
    (-10.3,-0.039),(-10.1,0.005),(-11.7,0.000),(-11.2,0.045),(-11.0,-0.005),(-10.8,0.030),(-10.5,0.012),(-10.2,0.050),(-11.4,0.025),(-10.0,-0.020),
    (-9.9,0.035),(-9.7,-0.012),(-9.5,0.060),(-9.3,0.020),(-9.1,0.068),(-9.1,-0.047),(-8.9,-0.042),(-8.8,0.008),(-8.6,-0.044),(-8.5,0.045),
    (-8.3,-0.025),(-8.1,0.030),(-9.8,0.050),(-9.6,0.005),(-9.4,-0.030),(-9.2,0.040),(-9.0,0.025),(-8.7,0.055),(-8.4,0.015),(-8.2,0.065),(-8.0,-0.008),(-9.5,-0.020),(-8.8,-0.035),
    (-7.9,0.073),(-7.7,0.040),(-7.5,-0.020),(-7.4,-0.039),(-7.2,0.055),(-7.0,0.010),(-6.8,0.068),(-6.6,-0.029),(-6.5,0.030),(-6.3,0.078),(-6.1,0.045),
    (-7.8,0.020),(-7.6,0.060),(-7.3,0.002),(-7.1,0.035),(-6.9,-0.012),(-6.7,0.050),(-6.4,0.015),(-6.2,-0.005),(-6.0,0.062),(-7.0,0.080),(-6.6,0.085),
    (-5.9,0.030),(-5.7,0.089),(-5.5,0.055),(-5.3,0.010),(-5.1,-0.015),(-4.9,0.070),(-4.7,0.040),(-4.6,0.000),(-4.6,0.013),(-4.4,0.080),(-4.3,0.099),(-4.1,0.050),
    (-5.8,0.072),(-5.6,0.018),(-5.4,0.065),(-5.2,0.038),(-5.0,0.085),(-4.8,0.025),(-4.5,0.060),(-4.2,0.030),(-5.9,0.048),(-5.3,0.078),(-4.0,0.092),
    (-3.9,0.060),(-3.7,0.025),(-3.5,0.095),(-3.4,0.016),(-3.2,0.075),(-3.0,0.040),(-2.8,0.105),(-2.6,0.108),(-2.4,0.026),(-2.2,0.085),(-2.0,0.055),
    (-3.8,0.080),(-3.6,0.045),(-3.3,0.088),(-3.1,0.058),(-2.9,0.030),(-2.7,0.070),(-2.5,0.092),(-2.3,0.048),(-2.1,0.100),(-3.9,0.035),(-2.6,0.065),
    (-1.9,0.035),(-1.7,0.095),(-1.5,0.070),(-1.4,0.124),(-1.2,0.050),(-1.1,0.033),(-0.9,0.112),(-0.7,0.085),(-0.5,0.060),(-0.3,0.100),(-0.1,0.045),
    (-1.8,0.080),(-1.6,0.108),(-1.3,0.062),(-1.0,0.090),(-0.8,0.040),(-0.6,0.075),(-0.4,0.110),(-0.2,0.068),(0.0,0.034),(-1.5,0.042),(-0.5,0.095),
    (0.1,0.080),(0.3,0.095),(0.5,0.118),(0.7,0.065),(0.8,0.122),(1.0,0.045),(1.2,0.085),(1.4,0.105),(1.6,0.040),(1.8,0.075),(2.0,0.098),
    (0.2,0.060),(0.4,0.040),(0.6,0.090),(0.9,0.108),(1.1,0.070),(1.3,0.055),(1.5,0.115),(1.7,0.088),(1.9,0.062),(2.1,0.044),(0.0,0.100),
    (2.2,0.080),(2.4,0.110),(2.6,0.117),(2.8,0.060),(3.0,0.090),(3.2,0.045),(3.4,0.100),(3.6,0.070),(3.8,0.046),(4.0,0.085),
    (2.3,0.050),(2.5,0.095),(2.7,0.072),(2.9,0.105),(3.1,0.065),(3.3,0.080),(3.5,0.055),(3.7,0.112),(3.9,0.095),(2.0,0.068),(3.0,0.118),
    (4.2,0.060),(4.4,0.105),(4.6,0.121),(4.8,0.075),(5.0,0.090),(5.1,0.053),(5.3,0.110),(5.5,0.068),(5.6,0.116),(5.8,0.082),(6.0,0.060),
    (4.3,0.080),(4.5,0.095),(4.7,0.062),(4.9,0.112),(5.2,0.072),(5.4,0.098),(5.7,0.058),(5.9,0.100),(4.1,0.050),(6.0,0.088),
    (6.2,0.075),(6.4,0.105),(6.6,0.068),(6.8,0.063),(7.0,0.090),(7.1,0.117),(7.3,0.080),(7.5,0.100),(7.6,0.134),(7.8,0.070),(8.0,0.110),
    (6.3,0.092),(6.5,0.080),(6.7,0.112),(6.9,0.098),(7.2,0.068),(7.4,0.088),(7.7,0.115),(7.9,0.095),(6.1,0.065),(8.0,0.078),
    (8.2,0.068),(8.4,0.090),(8.6,0.066),(8.8,0.122),(9.0,0.100),(9.2,0.080),(9.4,0.112),(9.6,0.070),(9.8,0.095),(10.0,0.130),
    (8.3,0.105),(8.5,0.115),(8.7,0.082),(8.9,0.072),(9.1,0.092),(9.3,0.068),(9.5,0.102),(9.7,0.085),(9.9,0.075),(10.1,0.137),(10.1,0.110),
    (10.3,0.069),(10.3,0.151),(10.5,0.090),(10.7,0.120),(10.9,0.105),(11.0,0.086),(11.2,0.135),(11.3,0.096),(11.4,0.076),(11.6,0.125),
    (11.8,0.145),(12.0,0.110),(10.6,0.100),(10.8,0.080),(11.1,0.115),(11.5,0.102),(11.9,0.088),(12.0,0.155),(10.4,0.128),(11.7,0.118),
    (12.2,0.130),(12.4,0.071),(12.5,0.089),(12.5,0.109),(12.5,0.162),(12.7,0.120),(12.9,0.140),(13.1,0.098),(13.3,0.166),(13.5,0.110),
    (13.7,0.150),(14.0,0.109),(14.0,0.130),(12.8,0.098),(13.2,0.125),(13.6,0.135),(13.9,0.155),(13.0,0.150),
    (14.2,0.093),(14.4,0.120),(14.6,0.145),(14.8,0.160),(15.0,0.122),(15.0,0.170),(15.1,0.093),(15.3,0.094),(15.5,0.135),(15.7,0.158),
    (16.0,0.150),(16.3,0.170),(16.5,0.139),(16.7,0.162),(17.0,0.152),(17.2,0.168),(17.5,0.172),(17.8,0.165),(14.6,0.108),(15.8,0.128),
    (16.8,0.145),(17.6,0.160),(12.9,0.070),
    (-5.0,0.058),(-4.4,0.070),(-3.6,0.068),(-3.0,0.082),(-2.4,0.075),(-1.8,0.065),(-1.2,0.078),(-0.6,0.100),(0.0,0.085),(0.6,0.075),
    (1.2,0.095),(1.8,0.110),(2.4,0.088),(3.0,0.075),(3.6,0.090),(4.2,0.100),(4.8,0.085),(5.4,0.082),(6.0,0.108),(6.6,0.095),
    (7.2,0.102),(7.8,0.085),(8.4,0.078),(9.0,0.088),(9.6,0.082),(-7.4,0.070),(-8.2,0.048),(-9.0,0.055),(-10.0,0.042),(-11.0,0.033),
    (-12.0,0.028),(-13.0,0.012),(-14.0,0.000),(-15.0,-0.012),(-12.6,0.010),(-11.6,0.040),
    (-14.4,-0.005),(-13.6,0.035),(-12.8,0.020),(-12.2,0.000),(-11.4,0.050),(-10.6,0.035),(-10.0,0.060),(-9.4,0.030),(-8.8,0.062),(-8.2,0.005),
    (-7.6,0.048),(-7.0,0.065),(-6.4,0.040),(-5.8,0.058),(-5.2,0.090),(-4.6,0.075),(-4.0,0.078),(-3.4,0.060),(-2.8,0.090),(-2.2,0.060),
    (-1.6,0.085),(-1.0,0.100),(-0.4,0.080),(0.2,0.110),(0.8,0.095),(1.4,0.075),(2.0,0.085),(2.6,0.100),(3.2,0.108),(3.8,0.075),
    (4.4,0.088),(5.0,0.105),(5.6,0.092),(6.2,0.100),(6.8,0.080),(7.4,0.110),(8.0,0.095),(8.6,0.100),(9.2,0.105),(9.8,0.110),
    (10.4,0.095),(11.0,0.100),(11.6,0.090),(-13.2,0.040),(-11.0,0.018),(-9.8,0.020),(-8.6,0.035),(-7.2,0.025),(-6.0,0.040),(-4.8,0.055),
    (-3.2,0.050),(-1.4,0.055),(0.4,0.070),(2.2,0.058),(4.0,0.065),(5.8,0.070),(7.6,0.075),(9.4,0.075),(-15.4,0.002),(-14.8,-0.005),
    (-13.8,-0.015),(-12.4,-0.010),(-11.2,-0.005),(-10.2,-0.025),(-9.2,-0.010),(-8.0,-0.020),(-7.0,-0.025),(-6.2,0.002),(-5.4,0.000),
    (-4.8,0.078),(-4.2,0.088),(-3.6,0.082),(-3.0,0.098),(-2.4,0.095),(-1.8,0.100),(-1.2,0.092),(-0.6,0.088),(0.0,0.092),(0.6,0.102),
    (1.2,0.110),(1.8,0.090),(2.4,0.098),(3.0,0.102),(3.6,0.098),(4.2,0.092),(4.8,0.098),(5.4,0.090),(6.0,0.098),(6.6,0.088),
    (7.2,0.092),(7.8,0.102),(8.4,0.085),(9.0,0.095),(9.6,0.090),(10.2,0.085),(-6.2,0.070),(-7.0,0.050),(-7.8,0.060),(-8.6,0.048),
    (-9.6,0.042),(-10.4,0.025),(-11.2,0.035),(-12.2,0.020),(-13.2,0.025),(-14.2,0.010),(-15.0,-0.020),(-13.6,-0.020),(-12.8,0.000),(-11.8,0.010),
    (-10.8,0.000),(-9.8,0.000),(-8.8,-0.020),(-7.8,-0.030),(-7.2,-0.005),(-6.8,0.020),(-5.6,0.045),(-4.2,0.045),(-2.8,0.045),(-1.0,0.065),
    (1.0,0.080),(3.0,0.060),(5.2,0.080),(7.0,0.070),(8.8,0.078),(10.6,0.088),(11.4,0.110),(12.2,0.100),(13.4,0.120),
]

# ---------------- figure ----------------
plt.rcParams["font.family"] = ["Liberation Sans", "DejaVu Sans"]
fig = plt.figure(figsize=(26.84, 20.30), dpi=100)

positions = [
    [0.0820, 0.5778, 0.3994, 0.3961],
    [0.5797, 0.5778, 0.3995, 0.3961],
    [0.0820, 0.0842, 0.3994, 0.3961],
    [0.5797, 0.0842, 0.3995, 0.3961],
]
all_pts = [jan_pts, apr_pts, jul_pts, oct_pts]
all_fits = [fit_jan, fit_apr, fit_jul, fit_oct]

for pos, pts, fit, title, corr in zip(positions, all_pts, all_fits, panel_titles, corr_labels):
    ax = fig.add_axes(pos)
    arr = np.array(pts)
    ax.plot(arr[:, 0], arr[:, 1], linestyle="none", marker="o", markersize=7.8,
            markerfacecolor=(0, 0, 1), markeredgecolor=(0, 0, 1), markeredgewidth=0.0, zorder=2)
    ax.plot(fit_x, fit, color=(1, 0, 0), linewidth=1.3,
            linestyle=(0, (7, 3, 1.5, 3)), zorder=3)
    ax.set_xlim(-40, 40)
    ax.set_ylim(-0.2, 0.2)
    ax.set_xticks(xticks)
    ax.set_xticklabels(xtick_labels)
    ax.set_yticks(yticks)
    ax.set_yticklabels(ytick_labels)
    for s in ["top", "right"]:
        ax.spines[s].set_visible(False)
    for s in ["left", "bottom"]:
        ax.spines[s].set_linewidth(1.4)
        ax.spines[s].set_color("black")
    ax.tick_params(direction="in", length=6, width=1.2, labelsize=34, colors="black")
    ax.tick_params(axis="x", pad=12)
    ax.tick_params(axis="y", pad=9)
    ax.text(-35.1, 0.139, title, fontsize=46, ha="left", va="baseline")
    ax.text(5.15, -0.140, corr, fontsize=46, ha="left", va="baseline")
    ax.text(0.5, -0.129, x_label, transform=ax.transAxes, fontsize=47,
            family=["Liberation Serif", "DejaVu Serif"], ha="center", va="center")
    ax.text(-0.137, 0.5, y_label, transform=ax.transAxes, fontsize=47, rotation=90,
            family=["Liberation Serif", "DejaVu Serif"], ha="center", va="center")

fig.savefig("out.png", dpi=100, facecolor="white")
